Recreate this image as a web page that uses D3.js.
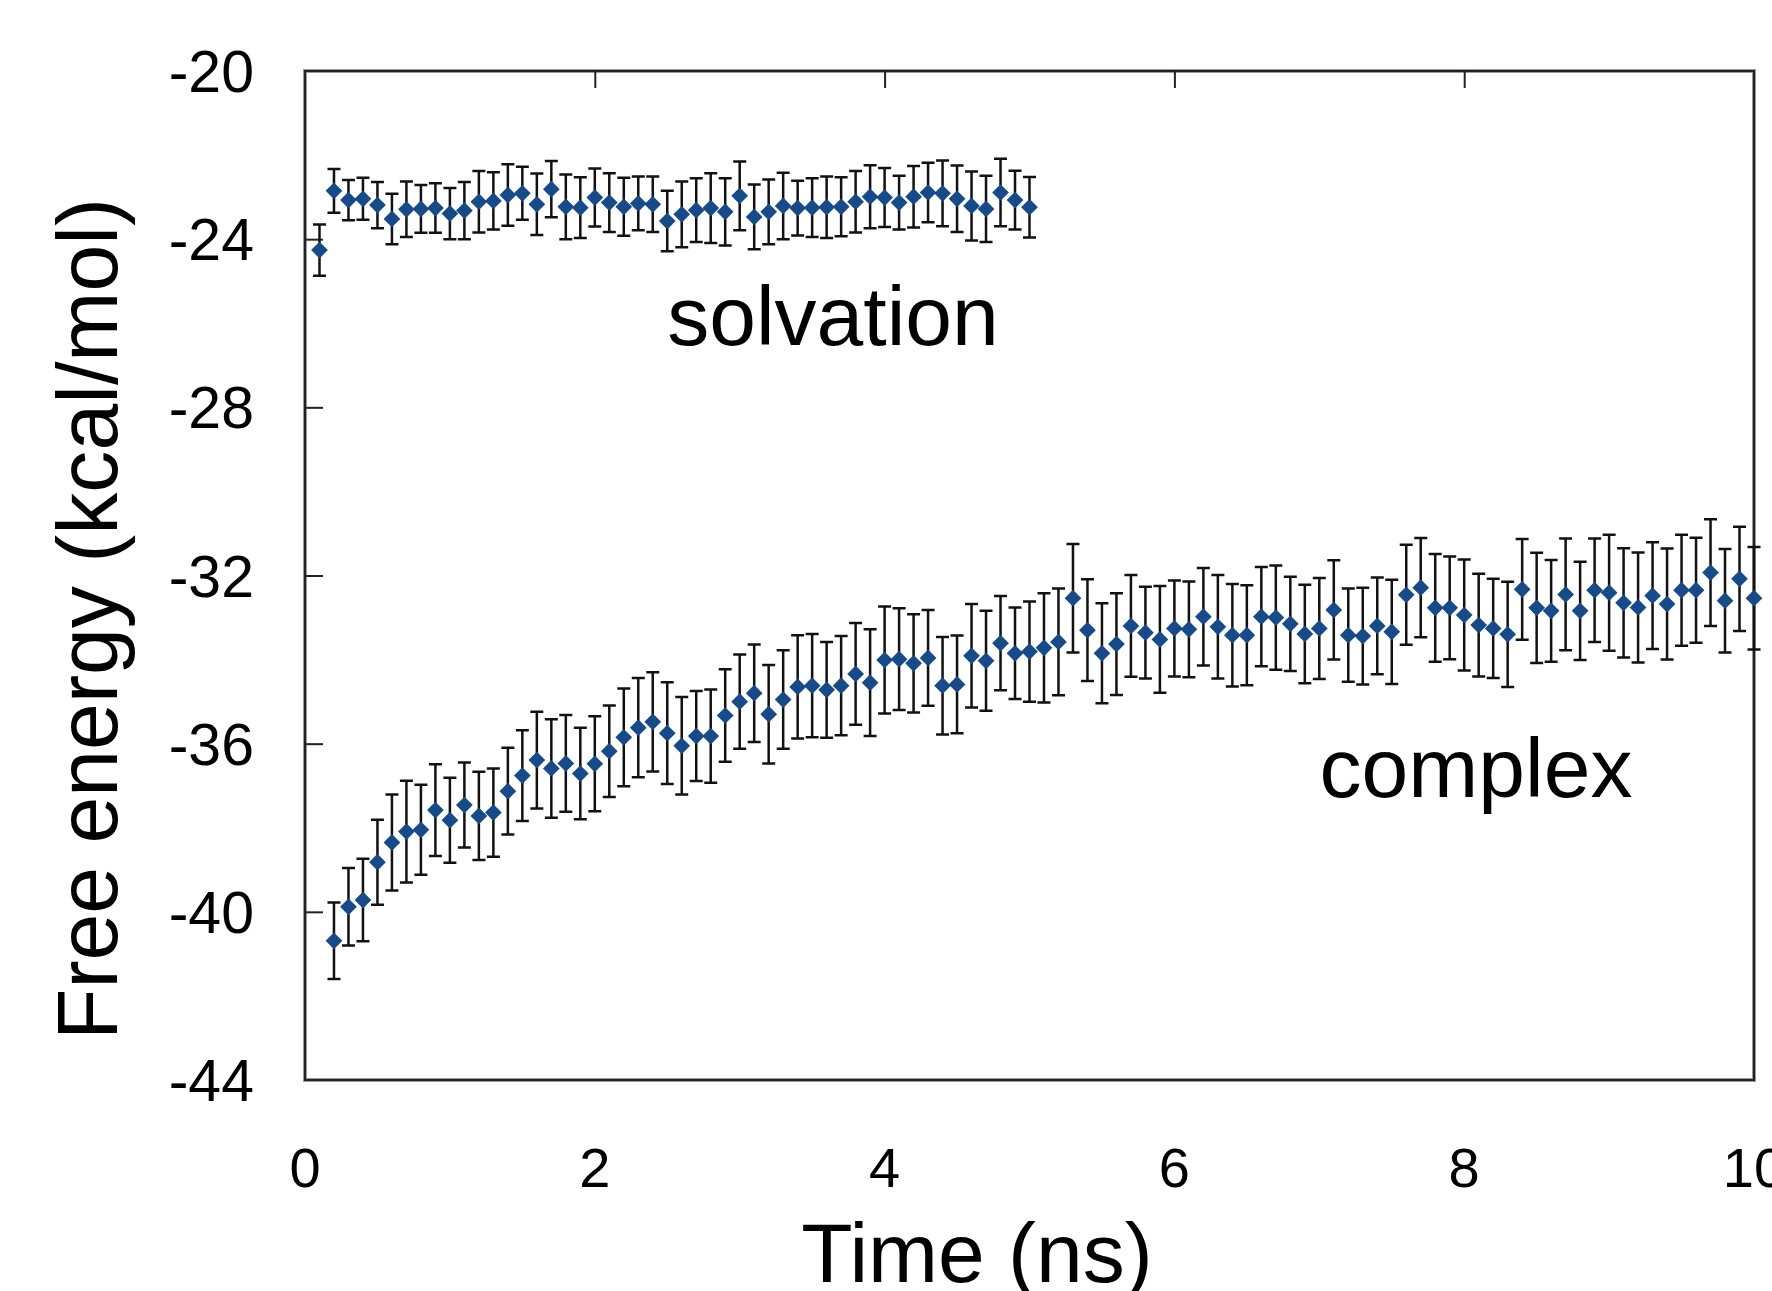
<!DOCTYPE html>
<html>
<head>
<meta charset="utf-8">
<script src="https://cdn.jsdelivr.net/npm/d3@7"></script>
<style>
  html, body { margin: 0; padding: 0; background: #fff; }
  svg { display: block; }
  text { font-family: "Liberation Sans", Arial, sans-serif; fill: #000; }
</style>
</head>
<body>
<svg id="chart" width="1772" height="1291"></svg>
<script>
// ---------- data ----------
const solvTime = [0.1,0.2,0.3,0.4,0.5,0.6,0.7,0.8,0.9,1.0,1.1,1.2,1.3,1.4,1.5,1.6,1.7,1.8,1.9,2.0,
  2.1,2.2,2.3,2.4,2.5,2.6,2.7,2.8,2.9,3.0,3.1,3.2,3.3,3.4,3.5,3.6,3.7,3.8,3.9,4.0,
  4.1,4.2,4.3,4.4,4.5,4.6,4.7,4.8,4.9,5.0];
const solvValue = [-24.26,-22.85,-23.07,-23.04,-23.19,-23.52,-23.29,-23.28,-23.26,-23.39,
  -23.32,-23.11,-23.09,-22.95,-22.91,-23.17,-22.81,-23.23,-23.25,-23.01,
  -23.13,-23.23,-23.15,-23.17,-23.57,-23.41,-23.31,-23.26,-23.35,-22.97,
  -23.47,-23.35,-23.21,-23.26,-23.25,-23.24,-23.23,-23.11,-22.99,-23.01,
  -23.13,-22.99,-22.89,-22.91,-23.04,-23.21,-23.28,-22.89,-23.07,-23.24];
const solvError = [0.61,0.52,0.48,0.50,0.55,0.60,0.66,0.57,0.59,0.61,
  0.68,0.73,0.68,0.73,0.63,0.73,0.67,0.77,0.72,0.69,
  0.70,0.69,0.64,0.66,0.72,0.78,0.76,0.83,0.80,0.82,
  0.77,0.77,0.79,0.65,0.70,0.73,0.70,0.73,0.75,0.70,
  0.64,0.73,0.71,0.78,0.79,0.82,0.79,0.80,0.70,0.72];

const compTime = [0.2,0.3,0.4,0.5,0.6,0.7,0.8,0.9,1.0,1.1,1.2,1.3,1.4,1.5,1.6,1.7,1.8,1.9,2.0,
  2.1,2.2,2.3,2.4,2.5,2.6,2.7,2.8,2.9,3.0,3.1,3.2,3.3,3.4,3.5,3.6,3.7,3.8,3.9,4.0,
  4.1,4.2,4.3,4.4,4.5,4.6,4.7,4.8,4.9,5.0,5.1,5.2,5.3,5.4,5.5,5.6,5.7,5.8,5.9,6.0,
  6.1,6.2,6.3,6.4,6.5,6.6,6.7,6.8,6.9,7.0,7.1,7.2,7.3,7.4,7.5,7.6,7.7,7.8,7.9,8.0,
  8.1,8.2,8.3,8.4,8.5,8.6,8.7,8.8,8.9,9.0,9.1,9.2,9.3,9.4,9.5,9.6,9.7,9.8,9.9,10.0];
const compValue = [-40.69,-39.88,-39.72,-38.82,-38.35,-38.09,-38.05,-37.58,-37.82,
  -37.46,-37.72,-37.64,-37.13,-36.76,-36.39,-36.59,-36.47,-36.71,-36.48,
  -36.18,-35.85,-35.62,-35.48,-35.75,-36.05,-35.82,-35.82,-35.33,-35.00,
  -34.80,-35.30,-34.95,-34.65,-34.62,-34.72,-34.62,-34.34,-34.55,-34.01,
  -33.99,-34.09,-33.96,-34.62,-34.59,-33.91,-34.03,-33.61,-33.85,-33.81,
  -33.72,-33.58,-32.54,-33.30,-33.85,-33.63,-33.20,-33.36,-33.52,-33.26,
  -33.28,-32.98,-33.22,-33.42,-33.42,-32.98,-33.00,-33.15,-33.39,-33.26,
  -32.82,-33.42,-33.44,-33.20,-33.34,-32.46,-32.29,-32.77,-32.77,-32.94,
  -33.18,-33.26,-33.40,-32.33,-32.77,-32.84,-32.45,-32.84,-32.35,-32.41,
  -32.65,-32.76,-32.48,-32.68,-32.35,-32.35,-31.93,-32.60,-32.08,-32.54];
const compError = [0.91,0.92,0.98,1.01,1.14,1.21,1.07,1.09,1.01,
  1.01,1.05,1.05,1.03,1.08,1.15,1.17,1.15,1.09,1.13,
  1.09,1.16,1.18,1.18,1.21,1.16,1.07,1.11,1.10,1.12,
  1.16,1.17,1.17,1.23,1.23,1.14,1.18,1.21,1.27,1.27,
  1.21,1.17,1.14,1.16,1.16,1.23,1.19,1.12,1.09,1.19,
  1.30,1.27,1.29,1.21,1.19,1.21,1.21,1.09,1.27,1.14,
  1.14,1.16,1.23,1.22,1.19,1.18,1.24,1.12,1.17,1.20,
  1.18,1.11,1.15,1.15,1.24,1.19,1.18,1.28,1.22,1.32,
  1.22,1.18,1.25,1.20,1.31,1.21,1.33,1.17,1.23,1.38,
  1.30,1.31,1.27,1.32,1.32,1.25,1.27,1.23,1.24,1.22];

const xTicks = [0, 2, 4, 6, 8, 10];
const yTicks = [-20, -24, -28, -32, -36, -40, -44];
const seriesLabels = ["solvation", "complex"];
const xTitle = "Time (ns)";
const yTitle = "Free energy (kcal/mol)";

// ---------- layout ----------
const svg = d3.select("#chart");
const L = 305, R = 1754, T = 71, B = 1080;
const x = d3.scaleLinear().domain([0, 10]).range([L, R]);
const y = d3.scaleLinear().domain([-44, -20]).range([B, T]);
const markerColor = "#174a87";

// frame
svg.append("rect").attr("x", L).attr("y", T).attr("width", R - L).attr("height", B - T)
  .attr("fill", "none").attr("stroke", "#9a9a9a").attr("stroke-width", 4);
svg.append("rect").attr("x", L).attr("y", T).attr("width", R - L).attr("height", B - T)
  .attr("fill", "none").attr("stroke", "#222").attr("stroke-width", 2);

// inner ticks (top and left)
const topAxis = d3.axisTop(x).tickValues(xTicks.filter(d => d > 0 && d < 10))
  .tickSize(-17).tickFormat("");
svg.append("g").attr("transform", `translate(0,${T})`).call(topAxis)
  .call(g => g.select(".domain").remove())
  .call(g => g.selectAll("line").attr("stroke", "#222").attr("stroke-width", 2));
const leftAxis = d3.axisLeft(y).tickValues(yTicks.filter(d => d < -20 && d > -44))
  .tickSize(-18).tickFormat("");
svg.append("g").attr("transform", `translate(${L},0)`).call(leftAxis)
  .call(g => g.select(".domain").remove())
  .call(g => g.selectAll("line").attr("stroke", "#222").attr("stroke-width", 2));

// tick labels
svg.append("g").selectAll("text").data(xTicks).join("text")
  .attr("x", d => x(d)).attr("y", 1187)
  .attr("text-anchor", "middle").attr("font-size", 56)
  .text(d => d);
svg.append("g").selectAll("text").data(yTicks).join("text")
  .attr("x", 254).attr("y", d => y(d) + 21)
  .attr("text-anchor", "end").attr("font-size", 59)
  .text(d => d);

// axis titles
svg.append("text").attr("x", 977).attr("y", 1282).attr("text-anchor", "middle")
  .attr("font-size", 84).text(xTitle);
svg.append("text").attr("transform", "translate(117,619) rotate(-90)")
  .attr("text-anchor", "middle").attr("font-size", 86)
  .attr("textLength", 842).attr("lengthAdjust", "spacingAndGlyphs")
  .text(yTitle);

// series labels
svg.append("text").attr("x", 833).attr("y", 345).attr("text-anchor", "middle")
  .attr("font-size", 84).text(seriesLabels[0]);
svg.append("text").attr("x", 1476).attr("y", 797).attr("text-anchor", "middle")
  .attr("font-size", 84).text(seriesLabels[1]);

// series drawing
function drawSeries(times, values, errors) {
  const data = times.map((t, i) => ({ t, v: values[i], e: errors[i] }));
  const g = svg.append("g");
  const cap = 6.5;
  const eb = g.append("g").attr("stroke", "#111").attr("stroke-width", 2.5).attr("fill", "none");
  eb.selectAll("path").data(data).join("path")
    .attr("d", d => {
      const cx = x(d.t), y1 = y(d.v + d.e), y2 = y(d.v - d.e);
      return `M${cx},${y1}V${y2}M${cx - cap},${y1}H${cx + cap}M${cx - cap},${y2}H${cx + cap}`;
    });
  const sym = d3.symbol().type(d3.symbolSquare).size(140);
  g.append("g").selectAll("path").data(data).join("path")
    .attr("transform", d => `translate(${x(d.t)},${y(d.v)}) rotate(45)`)
    .attr("d", sym).attr("fill", markerColor);
}
drawSeries(solvTime, solvValue, solvError);
drawSeries(compTime, compValue, compError);
</script>
</body>
</html>
